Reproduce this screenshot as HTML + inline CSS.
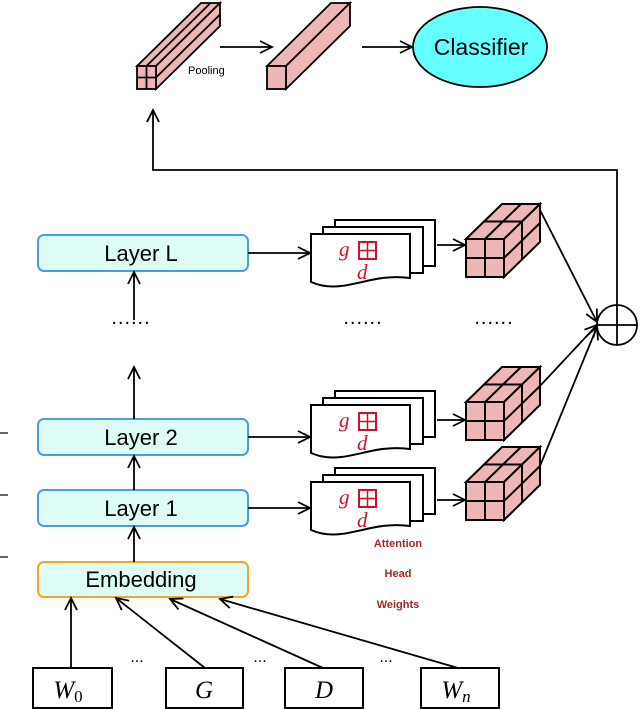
<!DOCTYPE html>
<html><head><meta charset="utf-8"><style>
html,body{margin:0;padding:0;background:#fff;}
svg{display:block;}
.s{font-family:"Liberation Sans",sans-serif;}
.m{font-family:"Liberation Serif",serif;font-style:italic;}
</style></head><body>
<svg width="640" height="709" viewBox="0 0 640 709" xmlns="http://www.w3.org/2000/svg">
<defs>
<marker id="ah" markerWidth="16" markerHeight="14" refX="13" refY="7" orient="auto" markerUnits="userSpaceOnUse">
<path d="M1,1 L13,7 L1,13" fill="none" stroke="#000" stroke-width="1.8"/>
</marker>
<g id="sheets" stroke="#000" stroke-width="2" fill="#fff">
<rect x="24" y="-14" width="100" height="46"/>
<rect x="12" y="-7" width="100" height="46"/>
<path d="M0,0 H99 V44 C70,40 50,50 30,52 C15,54 5,50 0,48 Z"/>
<rect x="48" y="8" width="17" height="17" fill="none" stroke="#d0102a" stroke-width="2"/>
<line x1="56.5" y1="8" x2="56.5" y2="25" stroke="#d0102a" stroke-width="1.5"/>
<line x1="48" y1="16.5" x2="65" y2="16.5" stroke="#d0102a" stroke-width="1.5"/>
</g>
<g id="cube" stroke="#000" stroke-width="2" fill="#efb6b6">
<polygon points="0,0 36,-35 74,-35 38,0"/>
<polygon points="38,0 74,-35 74,3 38,38"/>
<rect x="0" y="0" width="38" height="38"/>
<line x1="19" y1="0" x2="19" y2="38"/><line x1="0" y1="19" x2="38" y2="19"/>
<line x1="19" y1="0" x2="55" y2="-35"/><line x1="18" y1="-17.5" x2="56" y2="-17.5"/>
<line x1="56" y1="-17.5" x2="56" y2="20.5"/><line x1="38" y1="19" x2="74" y2="-16"/>
</g>
</defs>

<g stroke="#000" stroke-width="1.8" fill="#efb6b6">
<polygon points="137,66 201,3 220,3 156,66"/>
<polygon points="156,66 220,3 220,26 156,89"/>
<rect x="137" y="66" width="19" height="23"/>
<line x1="146.5" y1="66" x2="210.5" y2="3"/>
<line x1="156" y1="77.5" x2="220" y2="14.5"/>
<line x1="146.5" y1="66" x2="146.5" y2="89"/><line x1="137" y1="77.5" x2="156" y2="77.5"/>
<polygon points="267,66 331,3 350,3 286,66"/>
<polygon points="286,66 350,3 350,26 286,89"/>
<rect x="267" y="66" width="19" height="23"/>
</g>
<text x="188" y="74" class="s" font-size="11">Pooling</text>
<line x1="220" y1="47" x2="272" y2="47" stroke="#000" stroke-width="1.8" marker-end="url(#ah)"/>
<line x1="362" y1="47" x2="412" y2="47" stroke="#000" stroke-width="1.8" marker-end="url(#ah)"/>
<ellipse cx="480" cy="47" rx="67" ry="40" fill="#66ffff" stroke="#000" stroke-width="1.8"/>
<text x="481" y="55" class="s" font-size="23" text-anchor="middle">Classifier</text>

<polyline points="617,305 617,170 153,170 153,110" fill="none" stroke="#000" stroke-width="1.8" marker-end="url(#ah)"/>
<circle cx="617" cy="325" r="20" fill="#fff" stroke="#000" stroke-width="1.8"/>
<line x1="597" y1="325" x2="637" y2="325" stroke="#000" stroke-width="1.8"/>
<line x1="617" y1="305" x2="617" y2="345" stroke="#000" stroke-width="1.8"/>

<g stroke-width="2">
<rect x="38" y="235" width="210" height="36" rx="6" fill="#dcfcf5" stroke="#4a9de8"/>
<rect x="38" y="419" width="210" height="36" rx="6" fill="#dcfcf5" stroke="#4a9de8"/>
<rect x="38" y="490" width="210" height="36" rx="6" fill="#dcfcf5" stroke="#4a9de8"/>
<rect x="38" y="562" width="210" height="35" rx="6" fill="#dcfcf5" stroke="#f5a623"/>
</g>
<g class="s" font-size="22" text-anchor="middle">
<text x="141" y="261">Layer L</text>
<text x="141" y="445">Layer 2</text>
<text x="141" y="516">Layer 1</text>
<text x="141" y="587">Embedding</text>
</g>
<g stroke="#000" stroke-width="1.8" marker-end="url(#ah)">
<line x1="134" y1="320" x2="134" y2="272"/>
<line x1="134" y1="419" x2="134" y2="367"/>
<line x1="134" y1="490" x2="134" y2="456"/>
<line x1="134" y1="562" x2="134" y2="527"/>
<line x1="248" y1="253" x2="310" y2="253"/>
<line x1="248" y1="437" x2="310" y2="437"/>
<line x1="248" y1="508" x2="310" y2="508"/>
<line x1="437" y1="245" x2="465" y2="245"/>
<line x1="437" y1="420" x2="465" y2="420"/>
<line x1="437" y1="500" x2="465" y2="500"/>
<line x1="540" y1="210" x2="597" y2="322"/>
<line x1="540" y1="386" x2="597" y2="325"/>
<line x1="540" y1="466" x2="597" y2="327"/>
<line x1="71" y1="668" x2="71" y2="598"/>
<line x1="205" y1="668" x2="116" y2="598"/>
<line x1="323" y1="668" x2="170" y2="599"/>
<line x1="458" y1="668" x2="220" y2="599"/>
</g>
<g stroke="#000" stroke-width="1.2">
<line x1="0" y1="433" x2="8" y2="433"/><line x1="0" y1="495" x2="8" y2="495"/><line x1="0" y1="557" x2="8" y2="557"/>
</g>
<g class="s" font-size="20" text-anchor="middle" letter-spacing="1">
<text x="131" y="324">......</text>
<text x="363" y="324">......</text>
<text x="494" y="324">......</text>
</g>

<use href="#sheets" x="311" y="234"/>
<use href="#sheets" x="311" y="405"/>
<use href="#sheets" x="311" y="482"/>
<g class="m" fill="#d0102a" font-size="21">
<text x="339" y="256">g</text><text x="357" y="279">d</text>
<text x="339" y="427">g</text><text x="357" y="450">d</text>
<text x="339" y="504">g</text><text x="357" y="527">d</text>
</g>
<use href="#cube" x="466" y="239"/>
<use href="#cube" x="466" y="402"/>
<use href="#cube" x="466" y="482"/>

<g class="s" font-size="11" font-weight="bold" fill="#a02828" text-anchor="middle">
<text x="398" y="547">Attention</text>
<text x="398" y="577">Head</text>
<text x="398" y="608">Weights</text>
</g>

<g fill="#fff" stroke="#000" stroke-width="2">
<rect x="33" y="668" width="79" height="40"/>
<rect x="166" y="668" width="77" height="40"/>
<rect x="285" y="668" width="78" height="40"/>
<rect x="421" y="668" width="78" height="40"/>
</g>
<g class="m" font-size="25" text-anchor="middle">
<text x="68" y="698">W<tspan font-style="normal" font-size="17" dy="4">0</tspan></text>
<text x="204" y="698">G</text>
<text x="324" y="698">D</text>
<text x="456" y="698">W<tspan font-size="17" dy="4">n</tspan></text>
</g>
<g class="s" font-size="16" text-anchor="middle">
<text x="137" y="662">...</text>
<text x="260" y="662">...</text>
<text x="386" y="662">...</text>
</g>
</svg>
</body></html>
